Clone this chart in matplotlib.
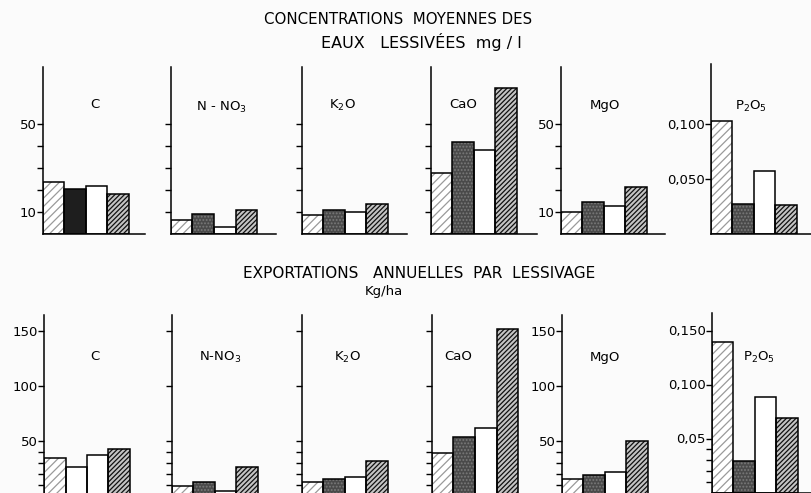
import numpy as np
import matplotlib
matplotlib.use("Agg")
import matplotlib.pyplot as plt
from matplotlib.ticker import FixedLocator

plt.rcParams['font.family'] = ['DejaVu Sans']
plt.rcParams['hatch.linewidth'] = 0.9

W, H = 812, 493

panel_labels = ['C', 'N - NO$_3$', 'K$_2$O', 'CaO', 'MgO', 'P$_2$O$_5$']
panel_labels_bot = ['C', 'N-NO$_3$', 'K$_2$O', 'CaO', 'MgO', 'P$_2$O$_5$']

# concentrations moyennes des eaux lessivees (mg/l)
conc_c = [23.5, 20.3, 22.0, 18.0]
conc_n = [6.4, 9.2, 3.0, 10.9]
conc_k = [8.5, 10.9, 10.2, 13.6]
conc_ca = [27.9, 42.0, 38.2, 66.2]
conc_mg = [9.8, 14.7, 12.9, 21.5]
conc_p = [0.103, 0.027, 0.0575, 0.026]

# exportations annuelles par lessivage (kg/ha)
exp_c = [34.0, 26.4, 37.0, 42.5]
exp_n = [8.8, 12.7, 4.5, 26.4]
exp_k = [12.2, 14.9, 17.3, 31.5]
exp_ca = [39.0, 53.6, 61.3, 152.0]
exp_mg = [14.9, 18.8, 21.8, 50.0]
exp_p = [0.139, 0.0294, 0.088, 0.0687]

top_vals = [conc_c, conc_n, conc_k, conc_ca, conc_mg, conc_p]
bot_vals = [exp_c, exp_n, exp_k, exp_ca, exp_mg, exp_p]

# tick labels
top_ticks = [10, 20, 30, 40, 50]
top_p_ticks = [0.05, 0.10]
top_p_labels = ['0,050', '0,100']
bot_ticks = [10, 20, 30, 40, 50, 100, 150]
bot_p_ticks = [0.01, 0.02, 0.03, 0.04, 0.05, 0.10, 0.15]
bot_p_labels = ['', '', '', '', '0,05', '0,100', '0,150']

# bar styles: light hatch, dark stipple, white, dense dark hatch
styles = [
    dict(face='white', hatch='////', hcol='#9a9a9a'),
    dict(face='#4a4a4a', hatch='.....', hcol='#7a7a7a'),
    dict(face='white', hatch=None, hcol='black'),
    dict(face='#c4c4c4', hatch='///////', hcol='#111111'),
]

fig = plt.figure(figsize=(W / 100, H / 100), dpi=100)
fig.patch.set_facecolor('#fbfbfb')


def px_axes(x0, x1, ytop, ybase):
    return fig.add_axes([x0 / W, (H - ybase) / H, (x1 - x0) / W, (ybase - ytop) / H])


def draw_panel(ax, vals, ymax, ticks, labels, bar_px, width_px, dark_second=False, white_second=False):
    x = np.arange(len(vals))
    for i, v in enumerate(vals):
        st = styles[i]
        face = st['face']
        hatch = st['hatch']
        hcol = st['hcol']
        if i == 1 and dark_second:
            face, hatch = '#1e1e1e', None
        if i == 1 and white_second:
            face, hatch = 'white', None
        ax.bar(x[i], v, width=1, align='edge', color=face, hatch=hatch,
               edgecolor=hcol, linewidth=0, zorder=2)
        ax.bar(x[i], v, width=1, align='edge', fill=False,
               edgecolor='black', linewidth=1.1, zorder=3)
    ax.set_xlim(0, width_px / bar_px)
    ax.set_ylim(0, ymax)
    ax.set_facecolor('none')
    for s in ['top', 'right']:
        ax.spines[s].set_visible(False)
    ax.spines['left'].set_linewidth(1.1)
    ax.spines['bottom'].set_linewidth(1.1)
    ax.set_xticks([])
    ax.yaxis.set_major_locator(FixedLocator(ticks))
    ax.set_yticklabels(labels)
    ax.tick_params(axis='y', direction='out', length=4, width=1, pad=0.5, labelsize=9.5)


bar_px = 21.5
top_x = [(43, 145), (171, 276), (302, 407), (431, 537), (561, 665), (711, 812)]
bot_x = [(44, 146), (172, 277), (302, 407), (432, 538), (562, 666), (712, 812)]

for k in range(6):
    x0, x1 = top_x[k]
    if k == 5:
        ax = px_axes(x0, x1, 64, 234)
        draw_panel(ax, top_vals[k], 170 / 1100, top_p_ticks, top_p_labels, bar_px, x1 - x0)
    else:
        ax = px_axes(x0, x1, 67, 234)
        labs = ['10', '', '', '', '50'] if k in (0, 4) else [''] * 5
        draw_panel(ax, top_vals[k], 167 / 2.2, top_ticks, labs, bar_px, x1 - x0,
                   dark_second=(k == 0))

    x0, x1 = bot_x[k]
    if k == 5:
        ax = px_axes(x0, x1, 313, 492.5)
        draw_panel(ax, bot_vals[k], 179.5 / 1080, bot_p_ticks, bot_p_labels, bar_px, x1 - x0)
    else:
        ax = px_axes(x0, x1, 315, 495.7)
        labs = ['', '', '', '', '50', '100', '150'] if k in (0, 4) else [''] * 7
        draw_panel(ax, bot_vals[k], 180.7 / 1.1, bot_ticks, labs, bar_px, x1 - x0,
                   white_second=(k == 0))

# panel labels
top_lab_pos = [(95, 105), (221, 107), (342, 105), (463, 105), (605, 105), (751, 106)]
bot_lab_pos = [(95, 357), (220, 357), (347, 357), (458, 357), (605, 357), (759, 357)]
for k in range(6):
    fig.text(top_lab_pos[k][0] / W, 1 - top_lab_pos[k][1] / H, panel_labels[k],
             ha='center', va='center', fontsize=9.5)
    fig.text(bot_lab_pos[k][0] / W, 1 - bot_lab_pos[k][1] / H, panel_labels_bot[k],
             ha='center', va='center', fontsize=9.5)

# titles
fig.text(398 / W, 1 - 20 / H, 'CONCENTRATIONS  MOYENNES DES', ha='center', va='center', fontsize=10.8)
fig.text(421 / W, 1 - 42 / H, 'EAUX   LESSIVÉES  mg / l', ha='center', va='center', fontsize=11.5)
fig.text(419 / W, 1 - 274 / H, 'EXPORTATIONS   ANNUELLES  PAR  LESSIVAGE', ha='center', va='center', fontsize=11)
fig.text(384 / W, 1 - 292 / H, 'Kg/ha', ha='center', va='center', fontsize=9.5)

fig.savefig('out.png', dpi=100, facecolor=fig.get_facecolor())
